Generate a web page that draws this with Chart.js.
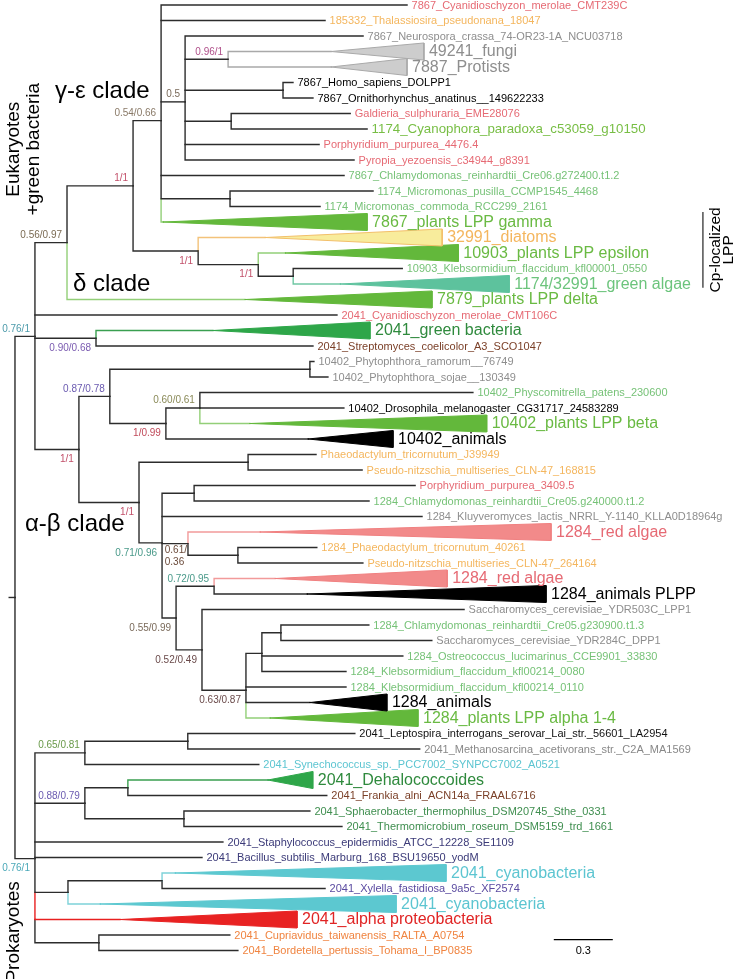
<!DOCTYPE html>
<html>
<head>
<meta charset="utf-8">
<script src="https://cdn.jsdelivr.net/npm/chart.js"></script>
<style>
html, body { margin: 0; padding: 0; background: #fff; }
#wrap { width: 742px; height: 979px; position: relative; }
</style>
</head>
<body>
<div id="wrap"><canvas id="tree"></canvas></div>
<script>
// ---- tree data ----
// internal nodes, n0 is the root. branch lengths in substitutions / site
const nodeParent = [-1, 0, 1, 2, 3, 4, 5, 5, 5, 4, 3, 10, 11, 1, 1, 14, 15, 15, 17, 14,
  19, 19, 21, 21, 23, 21, 25, 25, 27, 28, 29, 0, 31, 32, 31, 34, 34, 31, 37, 31]
const nodeLen = [0, 0.104, 0.167, 0.344, 0.146, 0.125, 0.224, 0.510, 0.240, 0.359,
  0.339, 0.313, 0.182, 0.318, 0.229, 0.161, 1.042, 0.292, 0.177, 0.313,
  0.568, 0.120, 0.167, 0.135, 0.260, 0.073, 0.198, 0.135, 0.229, 0.083,
  0.099, 0.104, 0.260, 0.536, 0.260, 0.224, 0.516, 0.172, 0.490, 0.333]
const nodeSupport = ['', '0.76/1', '0.56/0.97', '1/1', '0.54/0.66', '0.5', '0.96/1', '', '', '',
  '1/1', '1/1', '', '0.90/0.68', '1/1', '0.87/0.78', '', '1/0.99', '0.60/0.61', '1/1',
  '', '0.71/0.96', '', '0.61/\n0.36', '', '0.55/0.99', '0.72/0.95', '0.52/0.49', '0.63/0.87', '',
  '', '0.76/1', '0.65/0.81', '', '0.88/0.79', '', '', '', '', '']

// tips, top to bottom (collapsed clades have cladeLen > 0)
const leafNames = [
  '7867_Cyanidioschyzon_merolae_CMT239C', '185332_Thalassiosira_pseudonana_18047',
  '7867_Neurospora_crassa_74-OR23-1A_NCU03718', '49241_fungi', '7887_Protists',
  '7867_Homo_sapiens_DOLPP1', '7867_Ornithorhynchus_anatinus__149622233',
  'Galdieria_sulphuraria_EME28076', '1174_Cyanophora_paradoxa_c53059_g10150',
  'Porphyridium_purpurea_4476.4', 'Pyropia_yezoensis_c34944_g8391',
  '7867_Chlamydomonas_reinhardtii_Cre06.g272400.t1.2', '1174_Micromonas_pusilla_CCMP1545_4468',
  '1174_Micromonas_commoda_RCC299_2161', '7867_plants LPP gamma', '32991_diatoms',
  '10903_plants LPP epsilon', '10903_Klebsormidium_flaccidum_kfl00001_0550',
  '1174/32991_green algae', '7879_plants LPP delta', '2041_Cyanidioschyzon_merolae_CMT106C',
  '2041_green bacteria', '2041_Streptomyces_coelicolor_A3_SCO1047',
  '10402_Phytophthora_ramorum__76749', '10402_Phytophthora_sojae__130349',
  '10402_Physcomitrella_patens_230600', '10402_Drosophila_melanogaster_CG31717_24583289',
  '10402_plants LPP beta', '10402_animals', 'Phaeodactylum_tricornutum_J39949',
  'Pseudo-nitzschia_multiseries_CLN-47_168815', 'Porphyridium_purpurea_3409.5',
  '1284_Chlamydomonas_reinhardtii_Cre05.g240000.t1.2',
  '1284_Kluyveromyces_lactis_NRRL_Y-1140_KLLA0D18964g', '1284_red algae',
  '1284_Phaeodactylum_tricornutum_40261', 'Pseudo-nitzschia_multiseries_CLN-47_264164',
  '1284_red algae', '1284_animals PLPP', 'Saccharomyces_cerevisiae_YDR503C_LPP1',
  '1284_Chlamydomonas_reinhardtii_Cre05.g230900.t1.3', 'Saccharomyces_cerevisiae_YDR284C_DPP1',
  '1284_Ostreococcus_lucimarinus_CCE9901_33830', '1284_Klebsormidium_flaccidum_kfl00214_0080',
  '1284_Klebsormidium_flaccidum_kfl00214_0110', '1284_animals', '1284_plants LPP alpha 1-4',
  '2041_Leptospira_interrogans_serovar_Lai_str._56601_LA2954',
  '2041_Methanosarcina_acetivorans_str._C2A_MA1569',
  '2041_Synechococcus_sp._PCC7002_SYNPCC7002_A0521', '2041_Dehalococcoides',
  '2041_Frankia_alni_ACN14a_FRAAL6716', '2041_Sphaerobacter_thermophilus_DSM20745_Sthe_0331',
  '2041_Thermomicrobium_roseum_DSM5159_trd_1661', '2041_Staphylococcus_epidermidis_ATCC_12228_SE1109',
  '2041_Bacillus_subtilis_Marburg_168_BSU19650_yodM', '2041_cyanobacteria',
  '2041_Xylella_fastidiosa_9a5c_XF2574', '2041_cyanobacteria', '2041_alpha proteobacteria',
  '2041_Cupriavidus_taiwanensis_RALTA_A0754', '2041_Bordetella_pertussis_Tohama_I_BP0835'
]
const leafParent = [4, 4, 5, 6, 6, 7, 7, 8, 8, 5, 5, 4, 9, 9, 4, 10, 11, 12, 12, 2,
  1, 13, 13, 16, 16, 18, 18, 18, 17, 20, 20, 22, 22, 21, 23, 24, 24, 26, 26, 27,
  30, 30, 29, 29, 28, 28, 28, 33, 33, 32, 35, 35, 36, 36, 31, 31, 38, 38, 37, 31, 39, 39]
const leafLen = [1.281, 0.854, 0.927, 0.536, 0.536, 0.052, 0.156, 0.620, 0.708, 0.698,
  0.880, 0.953, 0.745, 0.469, 0.010, 0.349, 0.141, 0.568, 0.245, 0.927,
  1.573, 0.609, 1.130, 0.021, 0.094, 1.422, 0.750, 0.260, 0.740, 0.354,
  0.594, 1.151, 0.911, 1.354, 0.375, 0.411, 0.651, 0.318, 0.484, 1.365,
  0.458, 0.786, 0.734, 0.438, 0.521, 0.333, 0.125, 0.870, 1.208, 0.906,
  0.729, 1.036, 0.656, 0.823, 0.979, 0.870, 0.068, 0.849, 0.167, 0.443, 0.682, 0.724]
const cladeLen = [0, 0, 0, 0.484, 0.396, 0, 0, 0, 0, 0,
  0, 0, 0, 0, 1.063, 0.922, 0.901, 0, 0.880, 0.974,
  0, 0.818, 0, 0, 0, 0, 0, 1.234, 0.443, 0,
  0, 0, 0, 0, 1.516, 0, 0, 0.896, 1.245, 0,
  0, 0, 0, 0, 0, 0.401, 0.771, 0, 0, 0,
  0.234, 0, 0, 0, 0, 0, 1.411, 0, 1.542, 0.922, 0, 0]
const leafGroup = ['red', 'diatom', 'other', 'other', 'other', 'animal', 'animal', 'red', 'glauco', 'red',
  'red', 'green', 'green', 'green', 'plant', 'diatom', 'plant', 'green', 'greenClade', 'plant',
  'red', 'greenBac', 'actino', 'other', 'other', 'green', 'animal', 'plant', 'animal', 'diatom',
  'diatom', 'red', 'green', 'other', 'red', 'diatom', 'diatom', 'red', 'animal', 'other',
  'green', 'other', 'green', 'green', 'green', 'animal', 'plant', 'spiro', 'archaea', 'cyano',
  'greenBac', 'actino', 'chloroflexi', 'chloroflexi', 'firmicute', 'firmicute', 'cyano', 'gammaProteo', 'cyano', 'alphaProteo',
  'betaProteo', 'betaProteo']

const cladeTitles = ['γ-ε clade', 'δ clade', 'α-β clade']
const scaleBarLen = 0.3

// ---- layout / style ----
const FONT = '"Liberation Sans", Arial, Helvetica, sans-serif'
const LINE = '#2c2c2c'
const X_MIN = -0.078, X_MAX = X_MIN + 742 / 192
const Y_MIN = -5 / 15.5, Y_MAX = Y_MIN + 979 / 15.5
const TRI_H = 0.55
const titleAt = [[0.208, 5.6], [0.302, 18.0], [0.052, 33.5]]
const scaleBarAt = [2.81, 60.3]
const cpBar = [3.583, 13.4, 18.2]

const groupStyle = {
  red:        { label: '#e66a74', fill: '#f28a8a', stroke: '#f08080', branch: '#f29a9a' },
  diatom:     { label: '#f4b65e', fill: '#f8ec9c', stroke: '#f2bf6a', branch: '#f3c27a' },
  other:      { label: '#8e8e8e', fill: '#cdcdcd', stroke: '#a9a9a9', branch: '#a9a9a9' },
  animal:     { label: '#000000', fill: '#000000', stroke: '#000000', branch: LINE },
  green:      { label: '#76c277' },
  glauco:     { label: '#78be45' },
  plant:      { label: '#6aba43', fill: '#63b83b', stroke: '#63b83b', branch: '#93cf78' },
  greenClade: { label: '#6cc47c', fill: '#5dc29d', stroke: '#5dc29d', branch: '#70c8a4' },
  greenBac:   { label: '#2f8a3d', fill: '#2ea649', stroke: '#2ea649', branch: '#3a9f50' },
  actino:     { label: '#7a3f27' },
  chloroflexi:{ label: '#3f8e4f' },
  firmicute:  { label: '#3b3a78' },
  cyano:      { label: '#5cc5d1', fill: '#5cc8d0', stroke: '#5cc8d0', branch: '#7ed2d9' },
  gammaProteo:{ label: '#5a4aa0' },
  alphaProteo:{ label: '#e02424', fill: '#e82222', stroke: '#e82222', branch: '#e82020' },
  betaProteo: { label: '#f08440' },
  spiro:      { label: '#111111' },
  archaea:    { label: '#888888' }
}
const supportColor = ['', '#4d9bab', '#7a6a52', '#c2506a', '#8a7a68', '#7a6a5a', '#b0508a', '', '', '',
  '#c2506a', '#c2506a', '', '#7a5ab0', '#c2506a', '#6a5ab0', '', '#c04a5a', '#8a8a58', '#c2506a',
  '', '#4a9a8a', '', '#6a4a3a', '', '#7a6a5a', '#4a9a8a', '#6a4a4a', '#6a4a4a', '',
  '', '#4aa8b8', '#6a9a4a', '', '#6a5ab0', '', '', '', '', '']
const supportAbove = [0, 1, 1, 1, 1, 1, 1, 0, 0, 0,
  0, 0, 0, 0, 0, 1, 0, 0, 1, 0,
  0, 0, 0, 0, 0, 0, 1, 0, 0, 0,
  0, 0, 1, 0, 1, 0, 0, 0, 0, 0]

// ---- derived positions ----
const nodeDepth = nodeLen.map(() => 0)
nodeParent.forEach((p, n) => { if (p >= 0) nodeDepth[n] = nodeDepth[p] + nodeLen[n] })
const leafDepth = leafLen.map((l, i) => nodeDepth[leafParent[i]] + l)

const children = nodeParent.map(() => [])
nodeParent.forEach((p, n) => { if (p >= 0) children[p].push({ leaf: false, id: n }) })
leafParent.forEach((p, i) => children[p].push({ leaf: true, id: i }))
const nodeRow = []
function rowOf(c) {
  if (c.leaf) return c.id
  if (nodeRow[c.id] === undefined) {
    const kids = children[c.id]
    nodeRow[c.id] = kids.reduce((s, k) => s + rowOf(k), 0) / kids.length
  }
  return nodeRow[c.id]
}
rowOf({ leaf: false, id: 0 })
children.forEach(kids => kids.sort((a, b) => rowOf(a) - rowOf(b)))

// ---- datasets ----
const datasets = []
children.forEach((kids, p) => {
  const px = nodeDepth[p], py = nodeRow[p]
  kids.forEach((c, k) => {
    const cy = rowOf(c)
    // siblings higher up are drawn over this one
    let from = py
    for (let j = 0; j < k; j++) {
      const oy = rowOf(kids[j])
      if ((oy - py) * (cy - py) > 0 && Math.abs(oy - py) > Math.abs(from - py)) from = oy
    }
    if (Math.abs(from - py) > Math.abs(cy - py)) from = cy
    const cx = c.leaf ? leafDepth[c.id] : nodeDepth[c.id]
    const color = c.leaf && cladeLen[c.id] > 0 ? groupStyle[leafGroup[c.id]].branch : LINE
    datasets.push({
      data: [{ x: px, y: from }, { x: px, y: cy }, { x: cx, y: cy }],
      borderColor: color, borderWidth: 1.4, fill: false
    })
  })
})
// root stub
datasets.push({ data: [{ x: -0.03, y: nodeRow[0] }, { x: 0, y: nodeRow[0] }], borderColor: LINE, borderWidth: 1.4 })

leafNames.forEach((name, i) => {
  if (!cladeLen[i]) return
  const s = groupStyle[leafGroup[i]]
  const a = leafDepth[i], r = a + cladeLen[i]
  datasets.push({
    data: [{ x: a, y: i }, { x: r, y: i - TRI_H }, { x: r, y: i + TRI_H }, { x: a, y: i }],
    fill: 'shape', backgroundColor: s.fill, borderColor: s.stroke, borderWidth: 1, order: -1
  })
})

// scale bar and Cp bracket
datasets.push({ data: [{ x: scaleBarAt[0], y: scaleBarAt[1] }, { x: scaleBarAt[0] + scaleBarLen, y: scaleBarAt[1] }],
  borderColor: '#000', borderWidth: 1.4 })
datasets.push({ data: [{ x: cpBar[0], y: cpBar[1] }, { x: cpBar[0], y: cpBar[2] }],
  borderColor: '#444', borderWidth: 1.4 })

// ---- text ----
const treeText = {
  id: 'treeText',
  afterDatasetsDraw(chart) {
    const { ctx, scales: { x, y } } = chart
    ctx.save()
    ctx.textBaseline = 'middle'
    ctx.textAlign = 'left'

    leafNames.forEach((name, i) => {
      const tri = cladeLen[i] > 0
      const size = tri ? 16 : (i === 8 ? 13.3 : 11)
      ctx.font = size + 'px ' + FONT
      ctx.fillStyle = groupStyle[leafGroup[i]].label
      const tx = x.getPixelForValue(leafDepth[i] + cladeLen[i]) + (tri ? 5 : 4.5)
      ctx.fillText(name, tx, y.getPixelForValue(i) + 0.5)
    })

    ctx.font = '10px ' + FONT
    nodeSupport.forEach((s, n) => {
      if (!s) return
      const px = x.getPixelForValue(nodeDepth[n]), py = y.getPixelForValue(nodeRow[n])
      ctx.fillStyle = supportColor[n]
      const lines = s.split('\n')
      if (lines.length > 1) {
        ctx.textAlign = 'left'
        const lx = px - ctx.measureText(lines[0]).width - 1
        lines.forEach((t, k) => ctx.fillText(t, lx, py + 7 + k * 12))
      } else {
        ctx.textAlign = 'right'
        ctx.fillText(s, px - 5, py + (supportAbove[n] ? -7.5 : 10))
      }
    })

    ctx.fillStyle = '#000'
    ctx.textAlign = 'left'
    ctx.font = '24px ' + FONT
    cladeTitles.forEach((t, k) => {
      ctx.fillText(t, x.getPixelForValue(titleAt[k][0]), y.getPixelForValue(titleAt[k][1]))
    })

    ctx.font = '11px ' + FONT
    ctx.textAlign = 'center'
    ctx.fillText(String(scaleBarLen), x.getPixelForValue(scaleBarAt[0] + scaleBarLen / 2), y.getPixelForValue(scaleBarAt[1]) + 11)

    const vertical = (lines, cx, cy, size, gap) => {
      ctx.save()
      ctx.translate(cx, cy)
      ctx.rotate(-Math.PI / 2)
      ctx.font = size + 'px ' + FONT
      ctx.textAlign = 'center'
      lines.forEach((t, k) => ctx.fillText(t, 0, (k - (lines.length - 1) / 2) * gap))
      ctx.restore()
    }
    vertical(['Eukaryotes', '+green bacteria'], x.getPixelForValue(0.047), y.getPixelForValue(9.3), 19, 19.5)
    vertical(['Prokaryotes'], x.getPixelForValue(-0.005), y.getPixelForValue(59.8), 19, 19)
    vertical(['Cp-localized', 'LPP'], x.getPixelForValue(3.682), y.getPixelForValue(15.8), 15.5, 13)
    ctx.restore()
  }
}

new Chart(document.getElementById('tree'), {
  type: 'line',
  data: { datasets },
  options: {
    responsive: true,
    maintainAspectRatio: false,
    animation: false,
    events: [],
    layout: { padding: 0 },
    plugins: { legend: { display: false }, tooltip: { enabled: false } },
    elements: {
      point: { radius: 0, hoverRadius: 0 },
      line: { tension: 0, borderCapStyle: 'square', borderJoinStyle: 'miter' }
    },
    scales: {
      x: { type: 'linear', min: X_MIN, max: X_MAX, display: false },
      y: { type: 'linear', min: Y_MIN, max: Y_MAX, reverse: true, display: false }
    }
  },
  plugins: [treeText]
})
</script>
</body>
</html>
